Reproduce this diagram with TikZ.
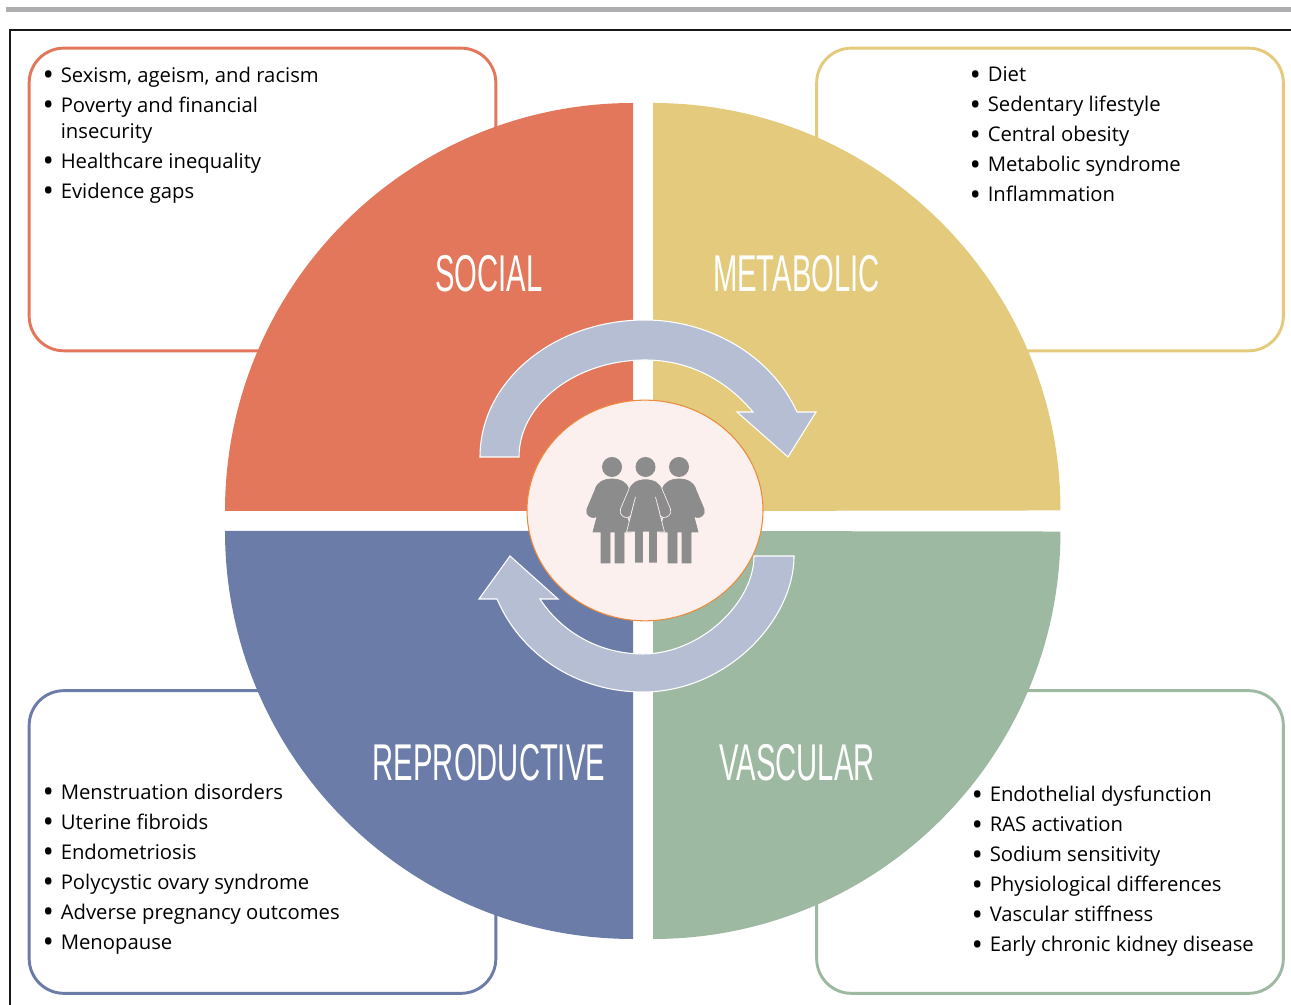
\documentclass[tikz,border=0pt]{standalone}
\usepackage{fontspec}
\setmainfont{Open Sans}
\newfontfamily\titlefont{Liberation Sans}
\usepackage{xcolor}
\usetikzlibrary{shapes.geometric}

\definecolor{socialred}{HTML}{E2775C}
\definecolor{metayellow}{HTML}{E3CA7C}
\definecolor{reproblue}{HTML}{6C7CA8}
\definecolor{vascgreen}{HTML}{9EB9A1}
\definecolor{cyclearrow}{HTML}{B5BED3}
\definecolor{hubfill}{HTML}{FCF0EE}
\definecolor{huborange}{HTML}{ED8B3C}
\definecolor{personfill}{HTML}{8C8C8C}
\definecolor{barfill}{HTML}{AEAEB0}

\newcommand{\itm}[1]{\makebox[12pt][l]{\hspace*{-1.6pt}\raisebox{-2.8pt}{\scalebox{1.5}{\textbullet}}}#1}

\begin{document}
\begin{tikzpicture}[
    x=0.75pt, y=0.75pt,
    listbox/.style={rectangle, rounded corners=26pt, line width=2.2pt, fill=white, inner sep=0pt, minimum width=350pt, minimum height=227pt},
    listtext/.style={anchor=north west, inner sep=0pt, align=left, text=black, font=\fontsize{15.2}{19.5}\selectfont},
    title/.style={text=white, inner sep=0pt, xscale=0.565, transform shape, font=\titlefont\fontsize{38.8}{40}\selectfont},
    cycle arrow/.style={fill=cyclearrow, draw=white, line width=0.8pt, line join=miter},
    woman/.pic={
        \fill[personfill, draw=#1, line width=0.5pt] (0,-12) .. controls (-8,-12) and (-15,-15) .. (-17,-23) -- (-25,-42)
            .. controls (-27,-48) and (-21,-51) .. (-18,-50.5) .. controls (-15,-50) and (-13,-47) .. (-14,-45)
            -- (-10,-30) -- (-19,-65) -- (-11,-65) -- (-11,-96) -- (-2,-96) -- (-2,-65) -- (3,-65) -- (3,-96) -- (12,-96) -- (12,-65) -- (19,-65)
            -- (10,-30) -- (14,-45) .. controls (13,-47) and (15,-50) .. (18,-50.5) .. controls (21,-51) and (27,-48) .. (25,-42)
            -- (17,-23) .. controls (15,-15) and (8,-12) .. (0,-12) -- cycle;
        \fill[personfill] (0,0) circle[radius=7.5pt];
    }
    ]
    \useasboundingbox (0,0) rectangle (1291,1005);

    % Page rules
    \fill[barfill] (6,992.5) rectangle (1291,998);
    \draw[line width=1.6pt, black!90] (10,0) -- (10,975) -- (1291,975);

    % List boxes
    \node (socialbox) [listbox, draw=socialred] at (262.5,805.5) {};
    \node (metabox) [listbox, draw=metayellow] at (1050,805.5) {};
    \node (reprobox) [listbox, draw=reproblue] at (262.5,163) {};
    \node (vascbox) [listbox, draw=vascgreen] at (1050,163) {};

    % Quadrants
    \fill[socialred] (633,494) -- (225,494) arc[start angle=180, end angle=90, radius=306pt] -- cycle;
    \fill[metayellow] (653,494) -- (653,902) arc[start angle=90, end angle=0, radius=305.6pt] -- cycle;
    \fill[reproblue] (633,474) -- (225,474) arc[start angle=180, end angle=270, radius=306pt] -- cycle;
    \fill[vascgreen] (653,474) -- (653,66) arc[start angle=270, end angle=360, radius=305.6pt] -- cycle;

    % Quadrant titles
    \node (social) [title] at (489,731) {SOCIAL};
    \node (metabolic) [title] at (796.5,731) {METABOLIC};
    \node (reproductive) [title] at (489,242) {REPRODUCTIVE};
    \node (vascular) [title] at (797,242) {VASCULAR};

    % Cycle arrows
    \draw[cycle arrow] (480,548) .. controls (480,624) and (554,685) .. (645,685) .. controls (709,685) and (771,650) .. (797,593)
        -- (816,593) -- (788,548) -- (737,593) -- (753,593)
        .. controls (727,624) and (690,645) .. (645,645) .. controls (577,645) and (519,602) .. (519,548) -- cycle;
    \draw[cycle arrow] (794,449) .. controls (794,385) and (727,313) .. (643,313) .. controls (575,313) and (520,352) .. (497,406)
        -- (479,406) -- (510,449) -- (558,406) -- (540,406)
        .. controls (560,375) and (597,351) .. (643,351) .. controls (700,351) and (754,402) .. (754,449) -- cycle;

    % Centre
    \node (hub) [ellipse, draw=huborange, fill=hubfill, line width=0.8pt, inner sep=0pt, minimum width=177pt, minimum height=165.5pt] at (645,494.5) {};
    \pic at (612,538) {woman=personfill};
    \pic at (679,538) {woman=personfill};
    \pic at (645.5,538) {woman=hubfill};

    % Lists
    \node (sociallist) [listtext] at (44.5,938.5) {\itm{Sexism, ageism, and racism}\\[3pt]\itm{Poverty and financial}\\\hspace*{12pt}insecurity\\[3pt]\itm{Healthcare inequality}\\[3pt]\itm{Evidence gaps}};
    \node (metalist) [listtext] at (971.5,938.5) {\itm{Diet}\\[3pt]\itm{Sedentary lifestyle}\\[3pt]\itm{Central obesity}\\[3pt]\itm{Metabolic syndrome}\\[3pt]\itm{Inflammation}};
    \node (reprolist) [listtext] at (44.5,221.5) {\itm{Menstruation disorders}\\[3pt]\itm{Uterine fibroids}\\[3pt]\itm{Endometriosis}\\[3pt]\itm{Polycystic ovary syndrome}\\[3pt]\itm{Adverse pregnancy outcomes}\\[3pt]\itm{Menopause}};
    \node (vasclist) [listtext] at (973.5,219.5) {\itm{Endothelial dysfunction}\\[3pt]\itm{RAS activation}\\[3pt]\itm{Sodium sensitivity}\\[3pt]\itm{Physiological differences}\\[3pt]\itm{Vascular stiffness}\\[3pt]\itm{Early chronic kidney disease}};
\end{tikzpicture}
\end{document}
